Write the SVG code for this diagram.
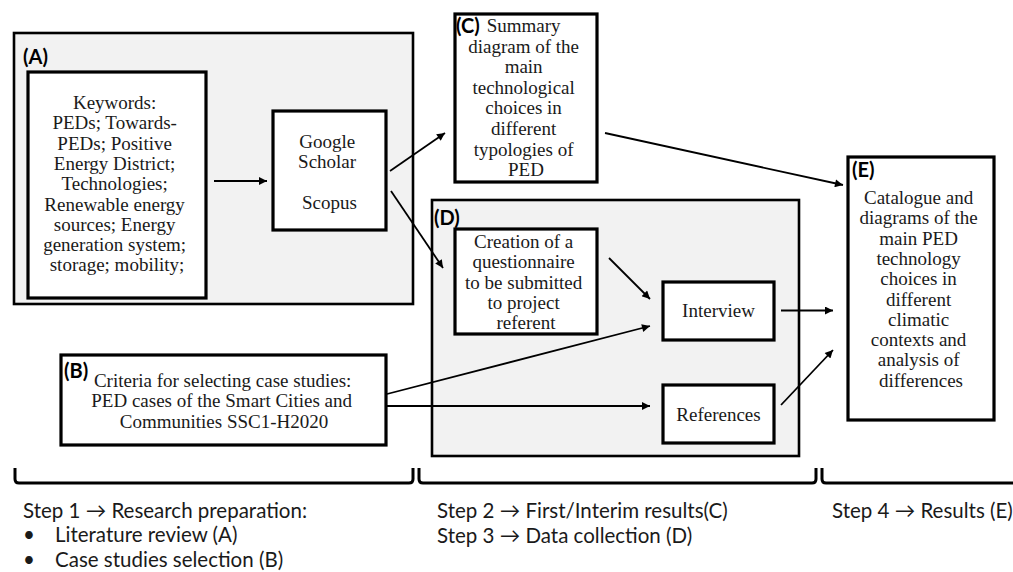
<svg xmlns="http://www.w3.org/2000/svg" width="1013" height="572" viewBox="0 0 1013 572">
  <style>
    .panel { fill: #f2f2f2; stroke: #000; stroke-width: 2.6; }
    .box { fill: #fff; stroke: #000; stroke-width: 3.2; }
    .body { font-family: "Liberation Serif", "Times New Roman", serif; font-size: 19px; fill: #1a1a1a; text-anchor: middle; }
    .tag { font-family: Lato, "Liberation Sans", sans-serif; font-weight: bold; font-size: 20px; fill: #000; }
    .step { font-family: Lato, "Liberation Sans", sans-serif; font-size: 20.5px; fill: #1a1a1a; }
    .wire { fill: none; stroke: #000; stroke-width: 1.8; marker-end: url(#head); }
    .brace { fill: none; stroke: #000; stroke-width: 3; }
  </style>
  <defs>
    <marker id="head" viewBox="0 0 10 10" refX="10" refY="5" markerWidth="10" markerHeight="8" markerUnits="userSpaceOnUse" orient="auto">
      <path d="M0,0 L10,5 L0,10 z" fill="#000"/>
    </marker>
  </defs>

  <rect width="1013" height="572" fill="#fff"/>

  <!-- (A) literature review -->
  <g id="panel-a">
    <rect class="panel" x="14" y="33" width="399" height="271"/>
    <text class="tag" x="23" y="64">(A)</text>
  </g>
  <g id="keywords">
    <rect class="box" x="28" y="72" width="178" height="226"/>
    <text class="body">
      <tspan x="117" y="109">Keywords:</tspan>
      <tspan x="117" y="129.3">PEDs; Towards-</tspan>
      <tspan x="117" y="149.6">PEDs; Positive</tspan>
      <tspan x="117" y="169.9">Energy District;</tspan>
      <tspan x="117" y="190.2">Technologies;</tspan>
      <tspan x="117" y="210.5">Renewable energy</tspan>
      <tspan x="117" y="230.8">sources; Energy</tspan>
      <tspan x="117" y="251.1">generation system;</tspan>
      <tspan x="117" y="271.4">storage; mobility;</tspan>
    </text>
  </g>
  <g id="databases">
    <rect class="box" x="273" y="111" width="113" height="119"/>
    <text class="body">
      <tspan x="329.5" y="147.5">Google</tspan>
      <tspan x="329.5" y="167.5">Scholar</tspan>
      <tspan x="329.5" y="209">Scopus</tspan>
    </text>
  </g>

  <!-- (B) case study criteria -->
  <g id="criteria">
    <rect class="box" x="61" y="355" width="325" height="90"/>
    <text class="tag" x="64" y="378">(B)</text>
    <text class="body">
      <tspan x="225" y="387">Criteria for selecting case studies:</tspan>
      <tspan x="224" y="407.3">PED cases of the Smart Cities and</tspan>
      <tspan x="224" y="427.6">Communities SSC1-H2020</tspan>
    </text>
  </g>

  <!-- (C) interim results -->
  <g id="summary">
    <rect class="box" x="455" y="14" width="142" height="168"/>
    <text class="tag" x="456" y="33">(C)</text>
    <text class="body">
      <tspan x="526" y="32">Summary</tspan>
      <tspan x="526" y="52.6">diagram of the</tspan>
      <tspan x="526" y="73.2">main</tspan>
      <tspan x="526" y="93.8">technological</tspan>
      <tspan x="526" y="114.4">choices in</tspan>
      <tspan x="526" y="135">different</tspan>
      <tspan x="526" y="155.6">typologies of</tspan>
      <tspan x="526" y="176.2">PED</tspan>
    </text>
  </g>

  <!-- (D) data collection -->
  <g id="panel-d">
    <rect class="panel" x="432" y="200" width="367" height="256"/>
    <text class="tag" x="434" y="225">(D)</text>
  </g>
  <g id="questionnaire">
    <rect class="box" x="455" y="229" width="142" height="105"/>
    <text class="body">
      <tspan x="526" y="247.5">Creation of a</tspan>
      <tspan x="526" y="268">questionnaire</tspan>
      <tspan x="526" y="288.5">to be submitted</tspan>
      <tspan x="526" y="309">to project</tspan>
      <tspan x="526" y="329">referent</tspan>
    </text>
  </g>
  <g id="interview">
    <rect class="box" x="663" y="282" width="111" height="58"/>
    <text class="body" x="718.5" y="317">Interview</text>
  </g>
  <g id="references">
    <rect class="box" x="663" y="385" width="111" height="58"/>
    <text class="body" x="718.5" y="421">References</text>
  </g>

  <!-- (E) results -->
  <g id="results">
    <rect class="box" x="848" y="157" width="146" height="263"/>
    <text class="tag" x="852" y="177">(E)</text>
    <text class="body">
      <tspan x="921" y="204">Catalogue and</tspan>
      <tspan x="921" y="224.3">diagrams of the</tspan>
      <tspan x="921" y="244.6">main PED</tspan>
      <tspan x="921" y="264.9">technology</tspan>
      <tspan x="921" y="285.2">choices in</tspan>
      <tspan x="921" y="305.5">different</tspan>
      <tspan x="921" y="325.8">climatic</tspan>
      <tspan x="921" y="346.1">contexts and</tspan>
      <tspan x="921" y="366.4">analysis of</tspan>
      <tspan x="921" y="386.7">differences</tspan>
    </text>
  </g>

  <!-- connectors -->
  <g id="connectors">
    <line class="wire" x1="214" y1="181" x2="267" y2="181"/>
    <line class="wire" x1="390" y1="171" x2="445" y2="133"/>
    <line class="wire" x1="391" y1="191" x2="443" y2="268"/>
    <line class="wire" x1="605" y1="133" x2="843" y2="185"/>
    <line class="wire" x1="609" y1="258" x2="650" y2="299"/>
    <line class="wire" x1="387" y1="394" x2="650" y2="326"/>
    <line class="wire" x1="387" y1="406" x2="650" y2="406"/>
    <line class="wire" x1="781" y1="310.5" x2="833" y2="310.5"/>
    <line class="wire" x1="781" y1="405" x2="833" y2="350"/>
  </g>

  <!-- step brackets and captions -->
  <g id="steps">
    <path class="brace" d="M15,468 V479 Q15,483 19,483 H409 Q413,483 413,479 V468"/>
    <path class="brace" d="M419,468 V479 Q419,483 423,483 H812 Q816,483 816,479 V468"/>
    <path class="brace" d="M822,468 V479 Q822,483 826,483 H1016"/>
    <text class="step" x="23" y="518">Step 1 → Research preparation:</text>
    <text class="step" x="23" y="542">•</text>
    <text class="step" x="55" y="542">Literature review (A)</text>
    <text class="step" x="23" y="567">•</text>
    <text class="step" x="55" y="567">Case studies selection (B)</text>
    <text class="step" x="437" y="518">Step 2 → First/Interim results(C)</text>
    <text class="step" x="437" y="543">Step 3 → Data collection (D)</text>
    <text class="step" x="832" y="518">Step 4 → Results (E)</text>
  </g>
</svg>
